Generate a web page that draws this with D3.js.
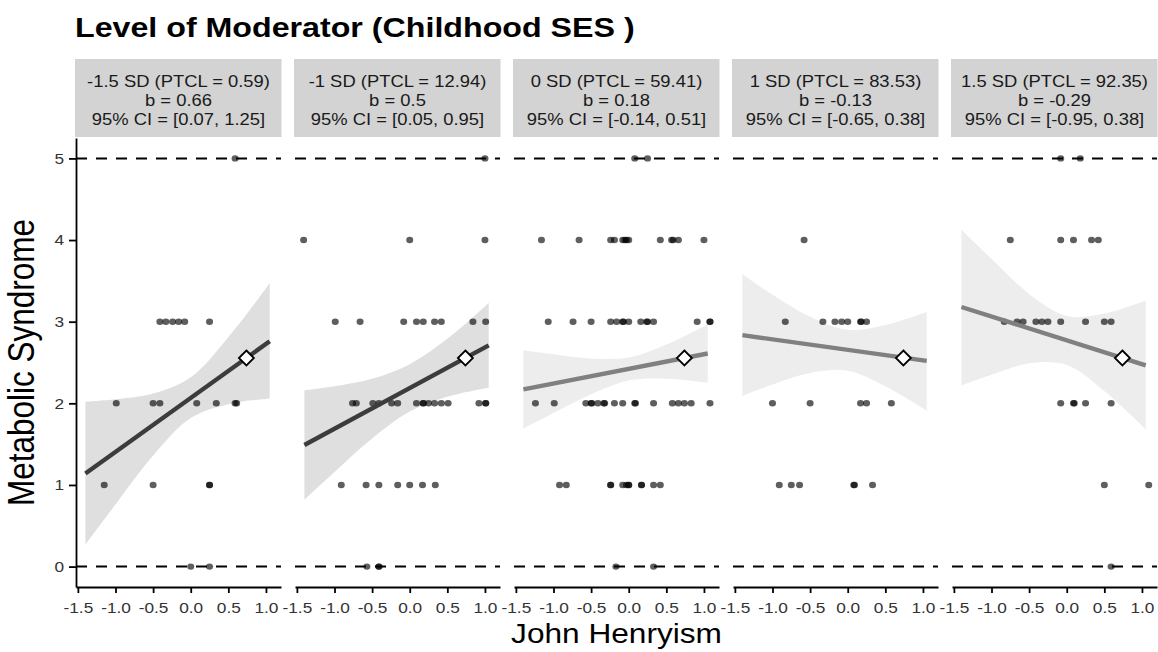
<!DOCTYPE html>
<html>
<head>
<meta charset="utf-8">
<script src="https://cdn.jsdelivr.net/npm/d3@7"></script>
<style>
  body { margin: 0; background: #fff; }
  svg { display: block; font-family: "Liberation Sans", Arial, sans-serif; }
</style>
</head>
<body>
<svg id="chart" width="1158" height="652"></svg>
<script>
// SIMPLE SLOPES PANELS: Metabolic Syndrome ~ John Henryism at levels of childhood SES
const levelLabels = ["-1.5 SD (PTCL = 0.59)", "-1 SD (PTCL = 12.94)", "0 SD (PTCL = 59.41)", "1 SD (PTCL = 83.53)", "1.5 SD (PTCL = 92.35)"];
const slopeLabels = ["b = 0.66", "b = 0.5", "b = 0.18", "b = -0.13", "b = -0.29"];
const ciLabels = ["95% CI = [0.07, 1.25]", "95% CI = [0.05, 0.95]", "95% CI = [-0.14, 0.51]", "95% CI = [-0.65, 0.38]", "95% CI = [-0.95, 0.38]"];
const significant = [true, true, false, false, false];

const xTicks = [-1.5, -1.0, -0.5, 0.0, 0.5, 1.0];
const yTicks = [0, 1, 2, 3, 4, 5];
const refLines = [0, 5];

// fitted line end points (x from -1.40 to 1.05)
const lineX = [-1.40, 1.05];
const lineStartY = [1.14, 1.49, 2.17, 2.835, 3.18];
const lineEndY = [2.76, 2.71, 2.61, 2.52, 2.465];
// mean point (diamond)
const meanX = 0.74;
const meanY = 2.555;

// confidence band, read at these x values
const bandX = [-1.40, -1.0, -0.5, 0.0, 0.5, 1.05];
const bandLow = [
  [0.27, 0.76, 1.36, 1.82, 1.99, 2.06],
  [0.82, 1.16, 1.57, 1.90, 2.08, 2.19],
  [1.69, 1.88, 2.11, 2.28, 2.30, 2.25],
  [2.09, 2.23, 2.37, 2.40, 2.21, 1.91],
  [2.22, 2.35, 2.49, 2.47, 2.15, 1.68]
];
const bandHigh = [
  [2.02, 2.05, 2.12, 2.32, 2.81, 3.47],
  [2.16, 2.21, 2.30, 2.48, 2.79, 3.23],
  [2.65, 2.60, 2.55, 2.56, 2.72, 2.97],
  [3.58, 3.33, 3.06, 2.90, 2.96, 3.12],
  [4.13, 3.77, 3.34, 3.07, 3.10, 3.26]
];

// observed points [John Henryism, Metabolic Syndrome]
const points1 = [
  [0.59, 5],
  [-0.41, 3], [-0.33, 3], [-0.24, 3], [-0.16, 3], [-0.08, 3], [0.25, 3],
  [-0.99, 2], [-0.50, 2], [-0.41, 2], [0.08, 2], [0.34, 2], [0.59, 2], [0.61, 2],
  [-1.15, 1], [-0.50, 1], [0.25, 1], [0.25, 1],
  [0.0, 0], [0.25, 0]
];
const points2 = [
  [1.0, 5],
  [-1.41, 4], [0.0, 4], [1.0, 4],
  [-0.99, 3], [-0.66, 3], [-0.08, 3], [0.09, 3], [0.18, 3], [0.33, 3], [0.42, 3], [0.84, 3], [1.01, 3],
  [-0.76, 2], [-0.71, 2], [-0.49, 2], [-0.41, 2], [-0.24, 2], [-0.16, 2], [0.09, 2], [0.18, 2], [0.18, 2],
  [0.25, 2], [0.33, 2], [0.42, 2], [0.51, 2], [0.92, 2], [1.01, 2], [1.01, 2],
  [-0.91, 1], [-0.58, 1], [-0.41, 1], [-0.16, 1], [0.0, 1], [0.17, 1], [0.34, 1],
  [-0.57, 0], [-0.41, 0], [-0.41, 0]
];
const points3 = [
  [0.08, 5], [0.25, 5],
  [-1.16, 4], [-0.66, 4], [-0.24, 4], [-0.19, 4], [-0.08, 4], [-0.05, 4], [-0.03, 4], [0.0, 4],
  [0.42, 4], [0.57, 4], [0.59, 4], [0.66, 4], [1.0, 4],
  [-1.07, 3], [-0.74, 3], [-0.50, 3], [-0.24, 3], [-0.16, 3], [-0.08, 3], [-0.07, 3], [0.0, 3],
  [0.16, 3], [0.24, 3], [0.25, 3], [0.33, 3], [0.91, 3], [1.08, 3], [1.08, 3],
  [-1.24, 2], [-0.99, 2], [-0.57, 2], [-0.50, 2], [-0.49, 2], [-0.41, 2], [-0.33, 2], [-0.32, 2],
  [-0.19, 2], [-0.08, 2], [0.08, 2], [0.09, 2], [0.33, 2], [0.58, 2], [0.66, 2], [0.74, 2], [0.83, 2], [1.08, 2],
  [-0.92, 1], [-0.83, 1], [-0.24, 1], [-0.24, 1], [-0.08, 1], [-0.03, 1], [0.0, 1], [0.0, 1],
  [0.17, 1], [0.17, 1], [0.33, 1], [0.42, 1],
  [-0.17, 0], [0.33, 0]
];
const points4 = [
  [-0.58, 4],
  [-0.83, 3], [-0.33, 3], [-0.17, 3], [-0.08, 3], [0.0, 3], [0.17, 3], [0.18, 3], [0.25, 3],
  [-1.0, 2], [-0.50, 2], [0.17, 2], [0.25, 2], [0.58, 2],
  [-0.91, 1], [-0.75, 1], [-0.64, 1], [0.08, 1], [0.09, 1], [0.33, 1]
];
const points5 = [
  [-0.08, 5], [0.18, 5],
  [-0.75, 4], [-0.08, 4], [0.09, 4], [0.33, 4], [0.42, 4],
  [-0.83, 3], [-0.66, 3], [-0.58, 3], [-0.41, 3], [-0.33, 3], [-0.25, 3], [-0.08, 3], [0.25, 3], [0.50, 3], [0.59, 3],
  [-0.08, 2], [0.09, 2], [0.10, 2], [0.25, 2], [0.59, 2],
  [0.50, 1], [1.09, 1],
  [0.59, 0]
];
const allPoints = [points1, points2, points3, points4, points5];

// layout
const panelLeft0 = 76;
const panelWidth = 205;
const panelGap = 14;
const panelTop = 138;
const panelBottom = 587;
const stretch = 1.15; // the glyphs in the picture are a little wider than Liberation Sans

const svg = d3.select("#chart");

const y = d3.scaleLinear().domain([-0.25, 5.25]).range([panelBottom, panelTop]);

// put a text at (x, y) with its glyphs widened
function wideText(parent, x, yPos, anchor) {
  return parent.append("text")
    .attr("transform", `translate(${x},${yPos}) scale(${stretch},1)`)
    .attr("text-anchor", anchor);
}

// title
wideText(svg, 75, 37, "start")
  .style("font-size", "28px")
  .style("font-weight", "bold")
  .attr("fill", "#000")
  .text("Level of Moderator (Childhood SES )");

levelLabels.forEach((label, i) => {
  const left = panelLeft0 + i * (panelWidth + panelGap);
  const x = d3.scaleLinear().domain([-1.525, 1.2]).range([left, left + panelWidth]);
  const g = svg.append("g").attr("class", "panel");

  // strip
  g.append("rect")
    .attr("x", left - 1)
    .attr("y", 59)
    .attr("width", panelWidth + 1.5)
    .attr("height", 78)
    .attr("fill", "#d3d3d3");

  [label, slopeLabels[i], ciLabels[i]].forEach((t, k) => {
    wideText(g, left + panelWidth / 2, 86.5 + k * 19, "middle")
      .style("font-size", "16px")
      .attr("fill", "#1a1a1a")
      .text(t);
  });

  // dashed reference lines at 0 and 5
  g.selectAll(".ref")
    .data(refLines)
    .enter()
    .append("line")
    .attr("x1", left)
    .attr("x2", left + panelWidth)
    .attr("y1", d => y(d))
    .attr("y2", d => y(d))
    .attr("stroke", "#000")
    .attr("stroke-width", 2)
    .attr("stroke-dasharray", "11,9");

  // confidence band
  const band = bandX.map((bx, k) => ({ x: bx, lo: bandLow[i][k], hi: bandHigh[i][k] }));
  g.append("path")
    .datum(band)
    .attr("fill", significant[i] ? "#dfdfdf" : "#ededed")
    .attr("d", d3.area()
      .x(d => x(d.x))
      .y0(d => y(d.lo))
      .y1(d => y(d.hi))
      .curve(d3.curveCatmullRom));

  // observed points
  g.selectAll(".pt")
    .data(allPoints[i])
    .enter()
    .append("ellipse")
    .attr("cx", d => x(d[0]))
    .attr("cy", d => y(d[1]))
    .attr("rx", 3.5)
    .attr("ry", 3.2)
    .attr("fill", "#000")
    .attr("fill-opacity", 0.63);

  // fitted line
  g.append("line")
    .attr("x1", x(lineX[0]))
    .attr("y1", y(lineStartY[i]))
    .attr("x2", x(lineX[1]))
    .attr("y2", y(lineEndY[i]))
    .attr("stroke", significant[i] ? "#3c3c3c" : "#808080")
    .attr("stroke-width", 4.4);

  // mean diamond
  g.append("path")
    .attr("transform", `translate(${x(meanX)},${y(meanY)})`)
    .attr("d", "M0,-7.5L7.5,0L0,7.5L-7.5,0Z")
    .attr("fill", "#fff")
    .attr("stroke", "#000")
    .attr("stroke-width", 1.8);

  // x axis
  const xAxis = g.append("g")
    .attr("transform", `translate(0,${panelBottom})`)
    .call(d3.axisBottom(x)
      .tickValues(xTicks)
      .tickFormat(d => d.toFixed(1))
      .tickSize(6)
      .tickSizeOuter(0)
      .tickPadding(9));
  xAxis.select(".domain").attr("stroke", "#000").attr("stroke-width", 1.8);
  xAxis.selectAll(".tick line").attr("stroke", "#000").attr("stroke-width", 1.8);
  xAxis.selectAll(".tick text")
    .attr("fill", "#333")
    .attr("transform", `scale(${stretch},1)`)
    .style("font-size", "15px")
    .style("font-family", "'Liberation Sans', Arial, sans-serif");

  // y axis only on the first panel
  if (i === 0) {
    const yAxis = g.append("g")
      .attr("transform", `translate(${left},0)`)
      .call(d3.axisLeft(y)
        .tickValues(yTicks)
        .tickFormat(d3.format("d"))
        .tickSize(7)
        .tickSizeOuter(0)
        .tickPadding(5));
    yAxis.select(".domain").attr("stroke", "#000").attr("stroke-width", 1.8);
    yAxis.selectAll(".tick line").attr("stroke", "#000").attr("stroke-width", 1.8);
    yAxis.selectAll(".tick text")
      .attr("fill", "#333")
      .attr("x", -12 / stretch)
      .attr("transform", `scale(${stretch},1)`)
      .style("font-size", "15px")
      .style("font-family", "'Liberation Sans', Arial, sans-serif");
  }
});

// axis titles
const lastRight = panelLeft0 + 4 * (panelWidth + panelGap) + panelWidth;
wideText(svg, (panelLeft0 + lastRight) / 2, 643, "middle")
  .style("font-size", "27.5px")
  .text("John Henryism");

svg.append("text")
  .attr("transform", `translate(34,${(panelTop + panelBottom) / 2}) rotate(-90) scale(1,${stretch})`)
  .attr("text-anchor", "middle")
  .style("font-size", "31.5px")
  .text("Metabolic Syndrome");
</script>
</body>
</html>
